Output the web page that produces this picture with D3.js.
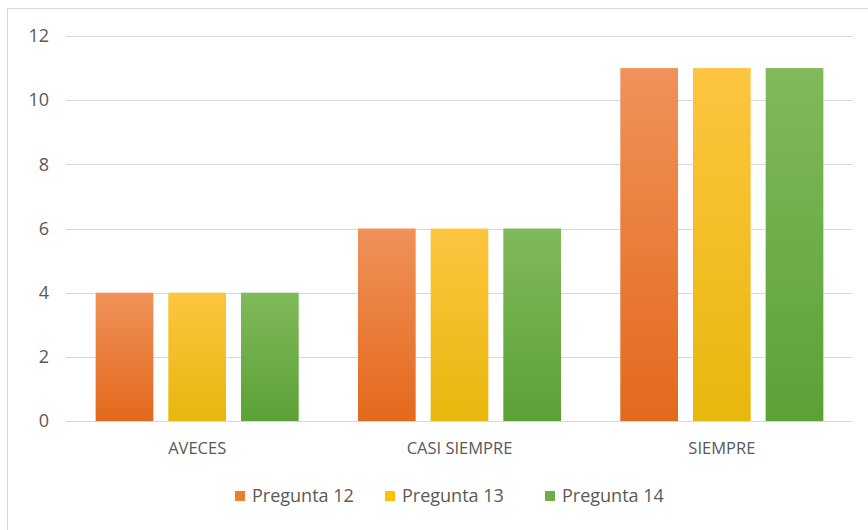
<!DOCTYPE html>
<html><head><meta charset="utf-8">
<script src="https://cdn.jsdelivr.net/npm/d3@7"></script>
<style>body{margin:0;background:#fff}svg{display:block}</style>
</head><body>
<svg id="c" width="868" height="530"></svg>
<script>
const categories = ["AVECES", "CASI SIEMPRE", "SIEMPRE"];
const seriesNames = ["Pregunta 12", "Pregunta 13", "Pregunta 14"];
const pregunta12 = [4, 6, 11];
const pregunta13 = [4, 6, 11];
const pregunta14 = [4, 6, 11];
const yTicks = [0, 2, 4, 6, 8, 10, 12];
const values = [pregunta12, pregunta13, pregunta14];
const colorsTop = ["#F0925A", "#FDC540", "#80BA5A"];
const colorsBot = ["#E3691C", "#E8B70C", "#5BA136"];
const colorsLegend = ["#ED7D31", "#FFC000", "#70AD47"];

const svg = d3.select("#c");
const font = "'Open Sans', sans-serif";
const m = {l: 66, r: 15, t: 36, b: 109};
const W = 868, H = 530;

svg.append("rect").attr("x", 7.5).attr("y", 8.5).attr("width", 900).attr("height", 600)
  .attr("fill", "#fff").attr("stroke", "#D9D9D9");

const defs = svg.append("defs");
seriesNames.forEach((s, i) => {
  const g = defs.append("linearGradient").attr("id", "g" + i)
    .attr("x1", 0).attr("y1", 0).attr("x2", 0).attr("y2", 1);
  g.append("stop").attr("offset", "0%").attr("stop-color", colorsTop[i]);
  g.append("stop").attr("offset", "100%").attr("stop-color", colorsBot[i]);
});

const x0 = d3.scaleBand().domain(categories).range([m.l, W - m.r]).paddingInner(0.226).paddingOuter(0.113);
const x1 = d3.scaleBand().domain(seriesNames).range([0, x0.bandwidth()]).paddingInner(0.206).paddingOuter(0);
const y = d3.scaleLinear().domain([0, 12]).range([H - m.b, m.t]);

// gridlines
svg.append("g").selectAll("line").data(yTicks).join("line")
  .attr("x1", m.l).attr("x2", W - m.r)
  .attr("y1", d => Math.round(y(d)) + 0.5).attr("y2", d => Math.round(y(d)) + 0.5)
  .attr("stroke", "#D9D9D9").attr("stroke-width", 1);

// y labels
const yAxis = d3.axisLeft(y).tickValues(yTicks).tickSize(0).tickPadding(0);
const ya = svg.append("g").attr("transform", `translate(${m.l - 17},0)`).call(yAxis);
ya.select(".domain").remove();
ya.selectAll("text").attr("font-family", font).attr("font-size", 18).attr("fill", "#595959");

// bars
const groups = svg.append("g").selectAll("g").data(categories).join("g")
  .attr("transform", d => `translate(${x0(d)},0)`);
groups.selectAll("rect").data((c, ci) => seriesNames.map((s, si) => ({s, si, v: values[si][ci]})))
  .join("rect")
  .attr("x", d => x1(d.s)).attr("width", x1.bandwidth())
  .attr("y", d => y(d.v)).attr("height", d => y(0) - y(d.v))
  .attr("fill", d => `url(#g${d.si})`);

// x labels
const xAxis = d3.axisBottom(x0).tickSize(0).tickPadding(0);
const xa = svg.append("g").attr("transform", `translate(0,${y(0) + 21})`).call(xAxis);
xa.select(".domain").remove();
xa.selectAll("text").attr("font-family", font).attr("font-size", 16.5).attr("fill", "#595959").attr("dy", "0.71em");

// legend
const legX = [235, 385, 545];
const leg = svg.append("g").selectAll("g").data(seriesNames).join("g")
  .attr("transform", (d, i) => `translate(${legX[i]},496)`);
leg.append("rect").attr("x", 0).attr("y", -5).attr("width", 10).attr("height", 10)
  .attr("fill", (d, i) => colorsLegend[i]);
leg.append("text").attr("x", 17).attr("y", 0).attr("dy", "0.35em")
  .attr("font-family", font).attr("font-size", 18).attr("fill", "#595959").text(d => d);
</script>
</body></html>
